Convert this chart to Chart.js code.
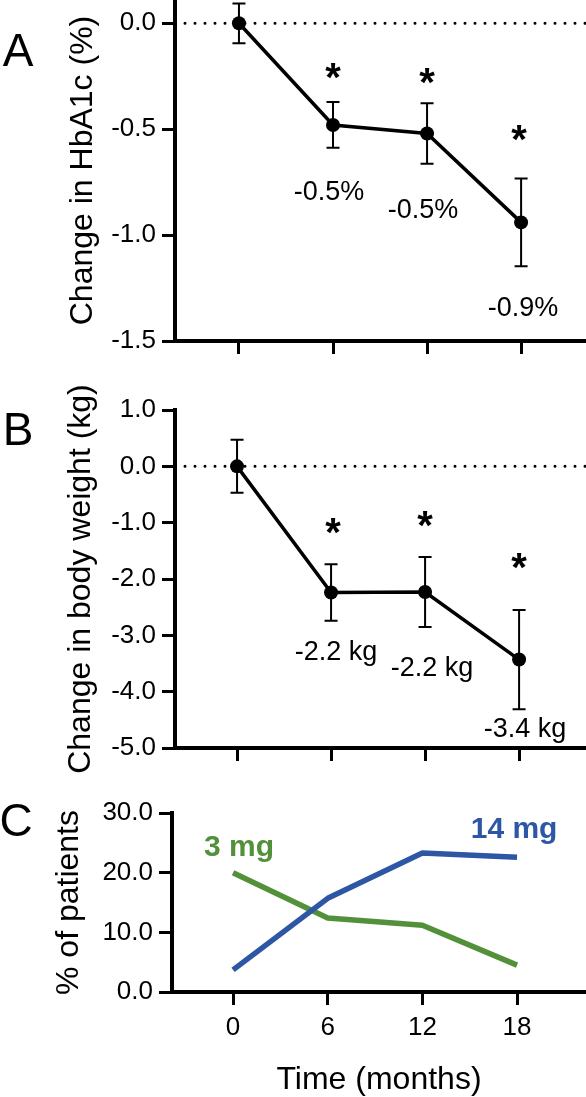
<!DOCTYPE html>
<html lang="en">
<head>
  <meta charset="UTF-8">
  <title>HbA1c, body weight and dose over time</title>
  <script src="https://cdn.jsdelivr.net/npm/chart.js"></script>
  <style>
    html, body { margin: 0; padding: 0; background: #fff; }
    canvas { position: absolute; left: 0; display: block; }
  </style>
</head>
<body>
  <!-- Panel A -->
  <canvas id="chartA" width="586" height="370" style="top:0"></canvas>
  <!-- Panel B -->
  <canvas id="chartB" width="586" height="405" style="top:370px"></canvas>
  <!-- Panel C -->
  <canvas id="chartC" width="586" height="322" style="top:775px"></canvas>

  <script>
    // Data
    const months = [0, 6, 12, 18];
    const monthTicks = [0, 6, 12, 18];

    const hba1cMean = [0.0, -0.48, -0.52, -0.94];
    const hba1cErr = [0.094, 0.108, 0.143, 0.207];
    const hba1cTicks = [0.0, -0.5, -1.0, -1.5];
    const hba1cNotes = ['', '-0.5%', '-0.5%', '-0.9%'];

    const weightMean = [0.0, -2.24, -2.23, -3.43];
    const weightErr = [0.47, 0.50, 0.62, 0.88];
    const weightTicks = [1, 0, -1, -2, -3, -4, -5];
    const weightNotes = ['', '-2.2 kg', '-2.2 kg', '-3.4 kg'];

    const dose3mg = [20.0, 12.4, 11.2, 4.5];
    const dose14mg = [3.7, 15.7, 23.3, 22.6];
    const patientTicks = [0, 10, 20, 30];

    const zeroLine = 0;

    const FONT = "'Liberation Sans', Arial, Helvetica, sans-serif";
    const GREEN = '#53903a';
    const BLUE = '#2d57a5';

    function points(values) {
      return months.map((m, i) => ({ x: m, y: values[i] }));
    }

    // error bars drawn from the chart's own scales
    function errorBars(means, errs) {
      return {
        id: 'errorBars',
        beforeDatasetsDraw(chart) {
          const { ctx, scales: { x, y } } = chart;
          ctx.save();
          ctx.strokeStyle = '#000';
          ctx.lineWidth = 2;
          months.forEach((m, i) => {
            const px = x.getPixelForValue(m);
            const top = y.getPixelForValue(means[i] + errs[i]);
            const bot = y.getPixelForValue(means[i] - errs[i]);
            ctx.beginPath();
            ctx.moveTo(px, top); ctx.lineTo(px, bot);
            ctx.moveTo(px - 6.5, top); ctx.lineTo(px + 6.5, top);
            ctx.moveTo(px - 6.5, bot); ctx.lineTo(px + 6.5, bot);
            ctx.stroke();
          });
          ctx.restore();
        }
      };
    }

    // text notes placed relative to a data point (or the canvas if no anchor)
    function notes(list) {
      return {
        id: 'notes',
        afterDatasetsDraw(chart) {
          const { ctx, scales: { x, y } } = chart;
          ctx.save();
          ctx.textAlign = 'center';
          ctx.textBaseline = 'middle';
          list.forEach(n => {
            let px = 0, py = 0;
            if (n.series) {
              px = x.getPixelForValue(months[n.i]);
              py = y.getPixelForValue(n.series[n.i]);
            }
            ctx.font = n.font;
            ctx.fillStyle = n.color || '#000';
            ctx.fillText(n.text, px + n.dx, py + n.dy + (n.shift || 0));
          });
          ctx.restore();
        }
      };
    }

    const noteFont = `27px ${FONT}`;
    const starFont = `bold 40px ${FONT}`;
    const letterFont = `46px ${FONT}`;
    const starShift = 40 * 0.23;

    function axisY(p) {
      return {
        type: 'linear',
        min: p.min,
        max: p.max,
        afterBuildTicks: s => { s.ticks = p.ticks.map(v => ({ value: v })); },
        afterFit: s => { s.width = p.left; s.paddingTop = 0; s.paddingBottom = 0; },
        grid: { drawOnChartArea: false, drawTicks: true, tickLength: 13, tickWidth: 3, tickColor: '#000' },
        border: { display: true, width: 4, color: '#000' },
        ticks: {
          color: '#000', padding: 6,
          font: { family: FONT, size: 26 },
          callback: v => Number(v).toFixed(1)
        },
        title: {
          display: true, text: p.title, color: '#000',
          font: { family: FONT, size: 32, lineHeight: 1.2 },
          padding: { top: p.titlePad, bottom: 0 }
        }
      };
    }

    function axisX(p) {
      return {
        type: 'linear',
        min: p.min,
        max: p.max,
        afterBuildTicks: s => { s.ticks = monthTicks.map(v => ({ value: v })); },
        afterFit: s => { s.height = p.height; s.paddingLeft = 0; s.paddingRight = 0; },
        grid: { drawOnChartArea: false, drawTicks: true, tickLength: 13, tickWidth: 3, tickColor: '#000' },
        border: { display: true, width: 4, color: '#000' },
        ticks: {
          display: !!p.labels, color: '#000', padding: 7, maxRotation: 0, autoSkip: false,
          font: { family: FONT, size: 26 },
          callback: v => String(v)
        },
        title: p.title ? {
          display: true, text: p.title, color: '#000',
          font: { family: FONT, size: 32, lineHeight: 1.0 },
          padding: { top: 0, bottom: 1 }
        } : { display: false }
      };
    }

    function baseOptions(top, xs, ys) {
      return {
        responsive: false,
        animation: false,
        devicePixelRatio: 1,
        layout: { autoPadding: false, padding: { left: 0, right: 0, top: top, bottom: 0 } },
        plugins: { legend: { display: false }, tooltip: { enabled: false } },
        scales: { x: xs, y: ys }
      };
    }

    function meanSet(values) {
      return {
        data: points(values),
        borderColor: '#000', borderWidth: 3.5, tension: 0,
        pointRadius: 7, pointBackgroundColor: '#000', pointBorderWidth: 0,
        clip: false
      };
    }

    function zeroSet(xMin, xMax) {
      return {
        data: [{ x: xMin, y: zeroLine }, { x: xMax, y: zeroLine }],
        borderColor: '#000', borderWidth: 3,
        borderDash: [0, 10], borderCapStyle: 'round',
        pointRadius: 0, clip: false
      };
    }

    // Panel A
    new Chart(document.getElementById('chartA'), {
      type: 'line',
      data: { datasets: [meanSet(hba1cMean), zeroSet(-4.08, 22.14)] },
      options: baseOptions(0,
        axisX({ min: -4.08, max: 22.14, height: 29 }),
        axisY({ min: -1.5, max: 0.11, ticks: hba1cTicks, left: 175, titlePad: 64, title: 'Change in HbA1c (%)' })),
      plugins: [errorBars(hba1cMean, hba1cErr), notes([
        { text: 'A', dx: 18, dy: 53, font: letterFont },
        { text: '*', series: hba1cMean, i: 1, dx: 0, dy: -54, font: starFont, shift: starShift },
        { text: '*', series: hba1cMean, i: 2, dx: 0, dy: -58, font: starFont, shift: starShift },
        { text: '*', series: hba1cMean, i: 3, dx: -2, dy: -90, font: starFont, shift: starShift },
        { text: hba1cNotes[1], series: hba1cMean, i: 1, dx: -4, dy: 68, font: noteFont },
        { text: hba1cNotes[2], series: hba1cMean, i: 2, dx: -4, dy: 77, font: noteFont },
        { text: hba1cNotes[3], series: hba1cMean, i: 3, dx: 2, dy: 86, font: noteFont }
      ])]
    });

    // Panel B
    new Chart(document.getElementById('chartB'), {
      type: 'line',
      data: { datasets: [meanSet(weightMean), zeroSet(-3.96, 22.27)] },
      options: baseOptions(40,
        axisX({ min: -3.96, max: 22.27, height: 27 }),
        axisY({ min: -5, max: 1, ticks: weightTicks, left: 175, titlePad: 62, title: 'Change in body weight (kg)' })),
      plugins: [errorBars(weightMean, weightErr), notes([
        { text: 'B', dx: 18, dy: 62, font: letterFont },
        { text: '*', series: weightMean, i: 1, dx: 2, dy: -67, font: starFont, shift: starShift },
        { text: '*', series: weightMean, i: 2, dx: 0, dy: -73, font: starFont, shift: starShift },
        { text: '*', series: weightMean, i: 3, dx: 0, dy: -99, font: starFont, shift: starShift },
        { text: weightNotes[1], series: weightMean, i: 1, dx: 5, dy: 60, font: noteFont },
        { text: weightNotes[2], series: weightMean, i: 2, dx: 7, dy: 77, font: noteFont },
        { text: weightNotes[3], series: weightMean, i: 3, dx: 6, dy: 70, font: noteFont }
      ])]
    });

    // Panel C
    new Chart(document.getElementById('chartC'), {
      type: 'line',
      data: {
        datasets: [
          { label: '14 mg', data: points(dose14mg), borderColor: BLUE, borderWidth: 5.5, tension: 0, pointRadius: 0, borderJoinStyle: 'round', clip: false },
          { label: '3 mg', data: points(dose3mg), borderColor: GREEN, borderWidth: 5.5, tension: 0, pointRadius: 0, borderJoinStyle: 'round', clip: false }
        ]
      },
      options: baseOptions(38,
        axisX({ min: -3.87, max: 22.37, height: 105, labels: true, title: 'Time (months)' }),
        axisY({ min: 0, max: 30, ticks: patientTicks, left: 172, titlePad: 50, title: '% of patients' })),
      plugins: [notes([
        { text: 'C', dx: 16, dy: 48, font: letterFont },
        { text: '3 mg', series: dose3mg, i: 0, dx: 6, dy: -25, font: `bold 30px ${FONT}`, color: GREEN },
        { text: '14 mg', series: dose14mg, i: 3, dx: -3, dy: -27, font: `bold 30px ${FONT}`, color: BLUE }
      ])]
    });
  </script>
</body>
</html>
